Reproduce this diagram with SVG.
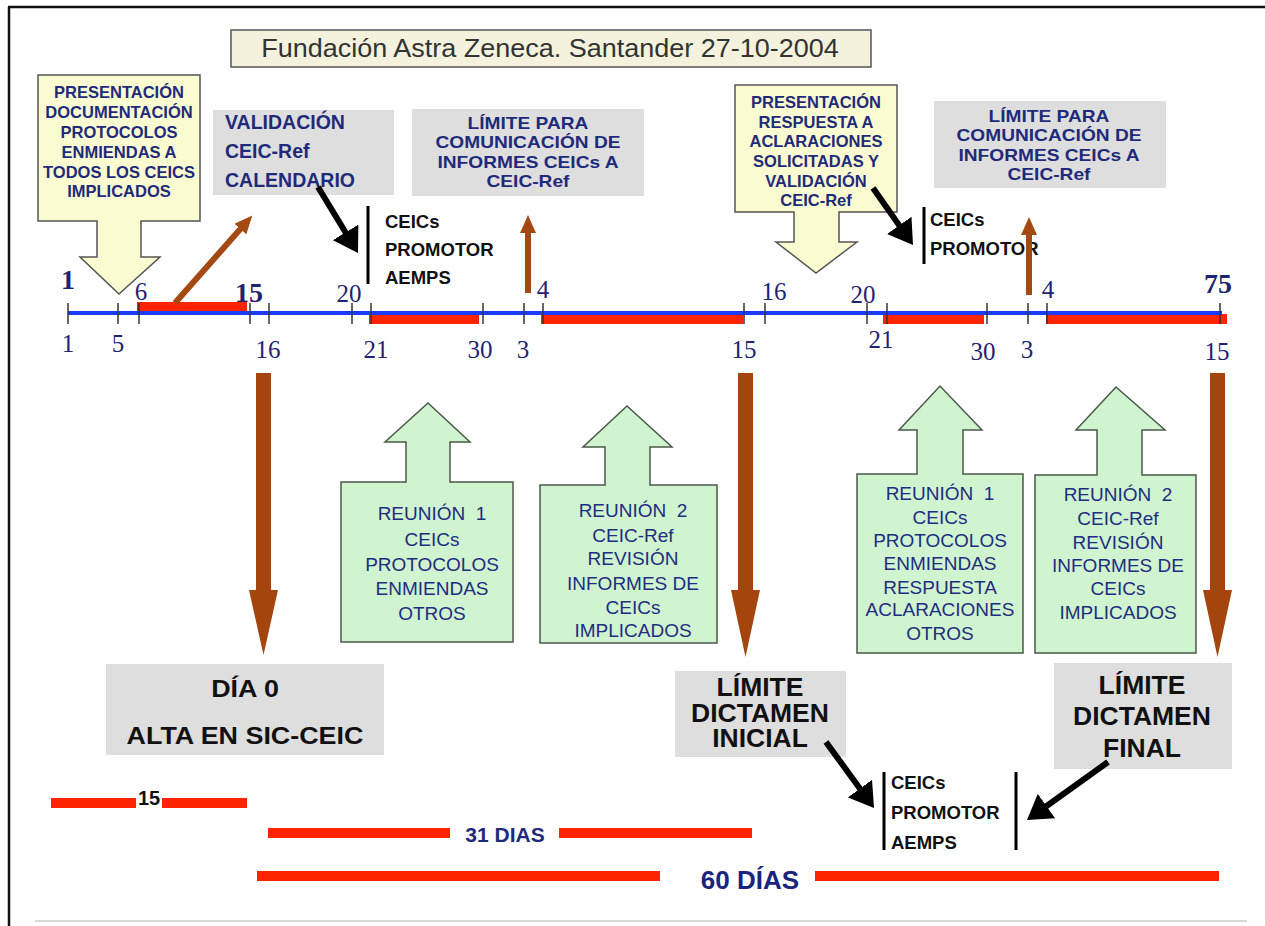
<svg xmlns="http://www.w3.org/2000/svg" width="1265" height="926" viewBox="0 0 1265 926">
<defs>
<style>
.sans{font-family:"Liberation Sans",Arial,sans-serif}
.tl{font-family:"Liberation Serif","Times New Roman",serif;font-size:25px;fill:#1f2470;text-anchor:middle}
.tlb{font-weight:bold;font-size:28px}
.yt{font-family:"Liberation Sans",Arial,sans-serif;font-weight:bold;font-size:16.5px;fill:#1f2a7a;text-anchor:middle}
.gt{font-family:"Liberation Sans",Arial,sans-serif;font-weight:bold;font-size:19.5px;fill:#1f2a7a}
.lt{font-family:"Liberation Sans",Arial,sans-serif;font-weight:bold;font-size:16.5px;fill:#1f2a7a;text-anchor:middle}
.grt{font-family:"Liberation Sans",Arial,sans-serif;font-size:19px;fill:#1f2d80;text-anchor:middle}
.bk{font-family:"Liberation Sans",Arial,sans-serif;font-weight:bold;fill:#111;text-anchor:middle}
.ceic{font-family:"Liberation Sans",Arial,sans-serif;font-weight:bold;font-size:18.5px;fill:#111}
.tick{stroke:#333;stroke-width:1.5}
.red{fill:#ff2400}
.graybox{fill:#dedede}
.yellow{fill:#fbfbd2;stroke:#555;stroke-width:1.5}
.green{fill:#d0f3d0;stroke:#4a5a4a;stroke-width:1.5}
.brownline{stroke:#a34a12;stroke-width:6;fill:none}
.brownblock{fill:#a5450e}
.blackline{stroke:#000;stroke-width:6;fill:none}
.vbar{stroke:#000;stroke-width:3}
</style>
<marker id="hBlack" markerWidth="24" markerHeight="30" refX="8" refY="15" orient="auto" markerUnits="userSpaceOnUse"><path d="M0,0 L24,15 L0,30 z" fill="#000"/></marker>
<marker id="hBrown" markerWidth="18" markerHeight="16" refX="4" refY="8" orient="auto" markerUnits="userSpaceOnUse"><path d="M0,0 L18,8 L0,16 z" fill="#a34a12"/></marker>
</defs>
<rect x="0" y="0" width="1265" height="926" fill="#fff"/>
<!-- frame -->
<line x1="8" y1="7" x2="1265" y2="7" stroke="#111" stroke-width="2.5"/>
<line x1="9" y1="7" x2="9" y2="926" stroke="#111" stroke-width="2.5"/>
<line x1="35" y1="921" x2="1247" y2="921" stroke="#ccc" stroke-width="1.5"/>

<g id="title">
<rect x="231" y="30" width="640" height="37" fill="#f4f2dc" stroke="#555" stroke-width="1.5"/>
<g transform="translate(550 0) scale(1.08 1)">
<text x="0" y="57" class="sans" font-size="25" fill="#333" text-anchor="middle">Fundación Astra Zeneca. Santander 27-10-2004</text>
</g>
</g>

<g id="timeline">
<rect class="red" x="137" y="302" width="110" height="10"/>
<rect class="red" x="369" y="314" width="110" height="10"/>
<rect class="red" x="541" y="314" width="202" height="10"/>
<rect class="red" x="883" y="314" width="101" height="10"/>
<rect class="red" x="1046" y="314" width="181" height="10"/>
<line x1="68" y1="313" x2="1222" y2="313" stroke="#1a3cff" stroke-width="4"/>
<g class="tick">
<line x1="68" y1="303" x2="68" y2="324"/><line x1="118" y1="303" x2="118" y2="324"/>
<line x1="139" y1="303" x2="139" y2="324"/><line x1="250" y1="303" x2="250" y2="324"/>
<line x1="269" y1="303" x2="269" y2="324"/><line x1="352" y1="303" x2="352" y2="324"/>
<line x1="371" y1="303" x2="371" y2="324"/><line x1="483" y1="303" x2="483" y2="324"/>
<line x1="524" y1="303" x2="524" y2="324"/><line x1="543" y1="303" x2="543" y2="324"/>
<line x1="744" y1="303" x2="744" y2="324"/><line x1="765" y1="303" x2="765" y2="324"/>
<line x1="867" y1="303" x2="867" y2="324"/><line x1="887" y1="303" x2="887" y2="324"/>
<line x1="987" y1="303" x2="987" y2="324"/><line x1="1028" y1="303" x2="1028" y2="324"/>
<line x1="1047" y1="303" x2="1047" y2="324"/><line x1="1220" y1="303" x2="1220" y2="324"/>
</g>
<text class="tl tlb" x="68" y="289">1</text>
<text class="tl" x="141" y="300">6</text>
<text class="tl tlb" x="249" y="302">15</text>
<text class="tl" x="349" y="302">20</text>
<text class="tl" x="543" y="298">4</text>
<text class="tl" x="774" y="300">16</text>
<text class="tl" x="863" y="303">20</text>
<text class="tl" x="1048" y="298">4</text>
<text class="tl tlb" x="1218" y="293">75</text>
<text class="tl" x="68" y="352">1</text>
<text class="tl" x="118" y="352">5</text>
<text class="tl" x="268" y="358">16</text>
<text class="tl" x="376" y="358">21</text>
<text class="tl" x="480" y="358">30</text>
<text class="tl" x="523" y="358">3</text>
<text class="tl" x="744" y="358">15</text>
<text class="tl" x="881" y="348">21</text>
<text class="tl" x="983" y="360">30</text>
<text class="tl" x="1027" y="358">3</text>
<text class="tl" x="1217" y="360">15</text>
</g>

<g id="presentacion1">
<path class="yellow" d="M38,75 H200 V221 H141 V257 H160 L119,294 L80,257 H97 V221 H38 Z"/>
<text class="yt" x="119" y="98">PRESENTACIÓN</text>
<text class="yt" x="119" y="118">DOCUMENTACIÓN</text>
<text class="yt" x="119" y="138">PROTOCOLOS</text>
<text class="yt" x="119" y="158">ENMIENDAS A</text>
<text class="yt" x="119" y="178">TODOS LOS CEICS</text>
<text class="yt" x="119" y="197">IMPLICADOS</text>
</g>

<g id="validacion">
<rect class="graybox" x="213" y="110" width="181" height="85"/>
<text class="gt" x="225" y="129">VALIDACIÓN</text>
<text class="gt" x="225" y="158">CEIC-Ref</text>
<text class="gt" x="225" y="187">CALENDARIO</text>
</g>

<g id="destinatarios1">
<line class="vbar" x1="368" y1="206" x2="368" y2="284"/>
<text class="ceic" x="385" y="228">CEICs</text>
<text class="ceic" x="385" y="256">PROMOTOR</text>
<text class="ceic" x="385" y="284">AEMPS</text>
</g>

<g id="limite1">
<rect class="graybox" x="412" y="109" width="232" height="87"/>
<g transform="translate(528 0) scale(1.16 1)">
<text class="lt" x="0" y="129">LÍMITE PARA</text>
<text class="lt" x="0" y="148.5">COMUNICACIÓN DE</text>
<text class="lt" x="0" y="168">INFORMES CEICs A</text>
<text class="lt" x="0" y="187.5">CEIC-Ref</text>
</g>
</g>

<g id="presentacion2">
<path class="yellow" d="M735,85 H897 V212 H839 V242 H857 L816,273 L776,242 H794 V212 H735 Z"/>
<text class="yt" x="816" y="108">PRESENTACIÓN</text>
<text class="yt" x="816" y="128">RESPUESTA A</text>
<text class="yt" x="816" y="147">ACLARACIONES</text>
<text class="yt" x="816" y="167">SOLICITADAS Y</text>
<text class="yt" x="816" y="187">VALIDACIÓN</text>
<text class="yt" x="816" y="206">CEIC-Ref</text>
</g>

<g id="destinatarios2">
<line class="vbar" x1="924" y1="207" x2="924" y2="264"/>
<text class="ceic" x="930" y="226">CEICs</text>
<text class="ceic" x="930" y="255">PROMOTOR</text>
</g>

<g id="limite2">
<rect class="graybox" x="934" y="101" width="232" height="87"/>
<g transform="translate(1049 0) scale(1.16 1)">
<text class="lt" x="0" y="122">LÍMITE PARA</text>
<text class="lt" x="0" y="141.5">COMUNICACIÓN DE</text>
<text class="lt" x="0" y="161">INFORMES CEICs A</text>
<text class="lt" x="0" y="180.5">CEIC-Ref</text>
</g>
</g>

<g id="reunion1">
<path class="green" d="M341,642 V482 H406 V442 H385 L428,403 L470,442 H450 V482 H513 V642 Z"/>
<text class="grt" x="432" y="520" xml:space="preserve">REUNIÓN  1</text>
<text class="grt" x="432" y="546">CEICs</text>
<text class="grt" x="432" y="571">PROTOCOLOS</text>
<text class="grt" x="432" y="595">ENMIENDAS</text>
<text class="grt" x="432" y="620">OTROS</text>
</g>

<g id="reunion2">
<path class="green" d="M540,643 V485 H605 V447 H583 L627,406 L672,447 H650 V485 H717 V643 Z"/>
<text class="grt" x="633" y="517" xml:space="preserve">REUNIÓN  2</text>
<text class="grt" x="633" y="542">CEIC-Ref</text>
<text class="grt" x="633" y="565">REVISIÓN</text>
<text class="grt" x="633" y="590">INFORMES DE</text>
<text class="grt" x="633" y="614">CEICs</text>
<text class="grt" x="633" y="637">IMPLICADOS</text>
</g>

<g id="reunion3">
<path class="green" d="M857,653 V474 H917 V430 H899 L940,386 L982,430 H963 V474 H1023 V653 Z"/>
<text class="grt" x="940" y="500" xml:space="preserve">REUNIÓN  1</text>
<text class="grt" x="940" y="524">CEICs</text>
<text class="grt" x="940" y="547">PROTOCOLOS</text>
<text class="grt" x="940" y="570">ENMIENDAS</text>
<text class="grt" x="940" y="594">RESPUESTA</text>
<text class="grt" x="940" y="616">ACLARACIONES</text>
<text class="grt" x="940" y="640">OTROS</text>
</g>

<g id="reunion4">
<path class="green" d="M1035,653 V475 H1097 V430 H1076 L1116,387 L1165,430 H1142 V475 H1196 V653 Z"/>
<text class="grt" x="1118" y="501" xml:space="preserve">REUNIÓN  2</text>
<text class="grt" x="1118" y="525">CEIC-Ref</text>
<text class="grt" x="1118" y="549">REVISIÓN</text>
<text class="grt" x="1118" y="572">INFORMES DE</text>
<text class="grt" x="1118" y="595">CEICs</text>
<text class="grt" x="1118" y="619">IMPLICADOS</text>
</g>

<g id="dia0">
<rect class="graybox" x="106" y="664" width="278" height="91"/>
<g transform="translate(245 0) scale(1.12 1)">
<text class="bk" x="0" y="697" font-size="24">DÍA 0</text>
<text class="bk" x="0" y="744" font-size="24">ALTA EN SIC-CEIC</text>
</g>
</g>

<g id="dictamenInicial">
<rect class="graybox" x="675" y="671" width="171" height="86"/>
<g transform="translate(760 0) scale(1.06 1)">
<text class="bk" x="0" y="696" font-size="25">LÍMITE</text>
<text class="bk" x="0" y="722" font-size="25">DICTAMEN</text>
<text class="bk" x="0" y="747" font-size="25">INICIAL</text>
</g>
</g>

<g id="dictamenFinal">
<rect class="graybox" x="1054" y="663" width="178" height="106"/>
<g transform="translate(1142 0) scale(1.06 1)">
<text class="bk" x="0" y="694" font-size="25">LÍMITE</text>
<text class="bk" x="0" y="725" font-size="25">DICTAMEN</text>
<text class="bk" x="0" y="757" font-size="25">FINAL</text>
</g>
</g>

<g id="destinatarios3">
<line class="vbar" x1="884" y1="772" x2="884" y2="850"/>
<line class="vbar" x1="1016" y1="772" x2="1016" y2="850"/>
<text class="ceic" x="891" y="789">CEICs</text>
<text class="ceic" x="891" y="819">PROMOTOR</text>
<text class="ceic" x="891" y="849">AEMPS</text>
</g>

<g id="duraciones">
<rect class="red" x="51" y="798" width="85" height="10"/>
<text class="sans" x="149" y="805" font-size="20" font-weight="bold" fill="#111" text-anchor="middle">15</text>
<rect class="red" x="162" y="798" width="85" height="10"/>
<rect class="red" x="268" y="828" width="182" height="10"/>
<text class="sans" x="505" y="842" font-size="21" font-weight="bold" fill="#1f2a7a" text-anchor="middle">31 DIAS</text>
<rect class="red" x="559" y="828" width="193" height="10"/>
<rect class="red" x="257" y="871" width="403" height="10"/>
<text class="sans" x="750" y="889" font-size="26" font-weight="bold" fill="#1a237e" text-anchor="middle">60 DÍAS</text>
<rect class="red" x="815" y="871" width="404" height="10"/>
</g>

<g id="connectors">
<line class="brownline" x1="175" y1="303" x2="243" y2="226" marker-end="url(#hBrown)"/>
<line class="brownline" x1="528" y1="293" x2="528" y2="229" marker-end="url(#hBrown)"/>
<line class="brownline" x1="1029" y1="295" x2="1029" y2="231" marker-end="url(#hBrown)"/>
<line class="blackline" x1="318" y1="187" x2="349.7" y2="239.3" marker-end="url(#hBlack)"/>
<line class="blackline" x1="873" y1="188" x2="903.8" y2="231.9" marker-end="url(#hBlack)"/>
<line class="blackline" x1="826" y1="742" x2="864.6" y2="795.1" marker-end="url(#hBlack)"/>
<line class="blackline" x1="1108" y1="762" x2="1040" y2="810.7" marker-end="url(#hBlack)"/>
<path class="brownblock" d="M256,373 H271 V590 H278 L263.5,655 L249,590 H256 Z"/>
<path class="brownblock" d="M738,373 H753 V590 H760 L745.5,657 L731,590 H738 Z"/>
<path class="brownblock" d="M1210,373 H1225 V590 H1232 L1217.5,657 L1203,590 H1210 Z"/>
</g>
</svg>
